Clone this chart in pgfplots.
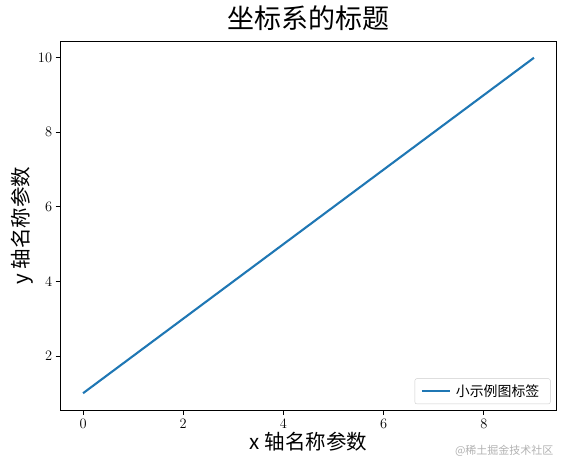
\documentclass[border=0pt]{standalone}
\usepackage{fontspec}
\usepackage{pgfplots}
\pgfplotsset{compat=1.18}
\newfontfamily\cjk{Noto Sans CJK SC}
\definecolor{mplblue}{HTML}{1F77B4}
\begin{document}
\begin{tikzpicture}[x=1pt,y=1pt]
\useasboundingbox (0,0) rectangle (566,471);
\begin{axis}[
  at={(60.5pt,61pt)}, anchor=south west,
  scale only axis, width=496pt, height=369pt,
  xmin=-0.45, xmax=9.45, ymin=0.55, ymax=10.45,
  xtick={0,2,4,6,8}, ytick={2,4,6,8,10},
  tick align=outside, tick pos=left,
  major tick length=4.9pt,
  axis line style={line width=0.9pt},
  every tick/.style={line width=0.9pt, black},
  tick label style={font=\fontsize{13.5}{14}\selectfont},
  xticklabel style={yshift=-1pt},
  title={\cjk\fontsize{27}{30}\selectfont 坐标系的标题},
  title style={at={(0.5,1)}, anchor=south, yshift=1pt},
  xlabel={\cjk\fontsize{20.5}{22}\selectfont x 轴名称参数},
  ylabel={\cjk\fontsize{20.5}{22}\selectfont y 轴名称参数},
  xlabel style={yshift=3pt},
  ylabel style={yshift=-2pt},
  legend style={font=\cjk\fontsize{13.9}{15}\selectfont, draw=black!20, rounded corners=2pt,
    at={(0.988,0.016)}, anchor=south east, inner xsep=6pt, inner ysep=4pt,
    nodes={inner xsep=5pt}},
  legend cell align=left,
  legend image code/.code={\draw[mplblue, line width=2.1pt] (0pt,0pt) -- (28pt,0pt);},
]
\addplot[mplblue, line width=2.1pt] coordinates {(0,1) (1,2) (2,3) (3,4) (4,5) (5,6) (6,7) (7,8) (8,9) (9,10)};
\addlegendentry{小示例图标签}
\end{axis}
\node[anchor=east, text=black!30, font=\cjk\fontsize{11}{12}\selectfont] at (557,20) {@稀土掘金技术社区};
\end{tikzpicture}
\end{document}
